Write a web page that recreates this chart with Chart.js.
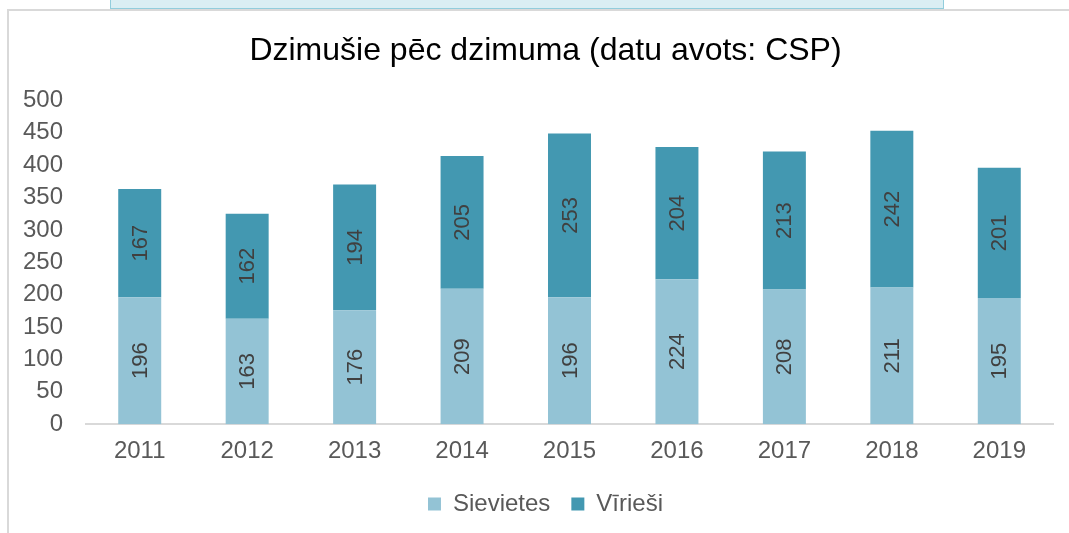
<!DOCTYPE html>
<html>
<head>
<meta charset="utf-8">
<script src="https://cdn.jsdelivr.net/npm/chart.js@4"></script>
<style>
  body { margin: 0; background: #fff; }
  #wrap { position: relative; width: 1069px; height: 533px; overflow: hidden; }
  #tab { position: absolute; left: 110px; top: -2px; width: 832px; height: 9px; background: #daeef3; border: 1px solid #92cddc; }
  #frame { position: absolute; left: 7px; top: 9px; width: 1070px; height: 540px; border-left: 2px solid #d9d9d9; border-top: 2px solid #d9d9d9; }
  canvas { position: absolute; left: 0; top: 0; }
</style>
</head>
<body>
<div id="wrap">
  <div id="tab"></div>
  <div id="frame"></div>
  <canvas id="myChart" width="1069" height="533"></canvas>
</div>
<script>
const years = ["2011", "2012", "2013", "2014", "2015", "2016", "2017", "2018", "2019"];
const sievietes = [196, 163, 176, 209, 196, 224, 208, 211, 195];
const viriesi = [167, 162, 194, 205, 253, 204, 213, 242, 201];
const yTicks = [0, 50, 100, 150, 200, 250, 300, 350, 400, 450, 500];

const fontName = "'Liberation Sans', Arial, sans-serif";

// value labels turned on their side, like in the excel chart
const barLabels = {
  id: 'barLabels',
  afterDatasetsDraw(chart) {
    const ctx = chart.ctx;
    ctx.save();
    ctx.font = '22px ' + fontName;
    ctx.fillStyle = '#404040';
    ctx.textAlign = 'center';
    ctx.textBaseline = 'middle';
    chart.data.datasets.forEach((ds, i) => {
      chart.getDatasetMeta(i).data.forEach((bar, j) => {
        const y = (bar.y + bar.base) / 2;
        ctx.save();
        ctx.translate(bar.x, y);
        ctx.rotate(-Math.PI / 2);
        ctx.fillText(ds.data[j], 0, 1);
        ctx.restore();
      });
    });
    ctx.restore();
  }
};

const myChart = new Chart(document.getElementById('myChart'), {
  type: 'bar',
  data: {
    labels: years,
    datasets: [
      { label: 'Sievietes', data: sievietes, backgroundColor: '#93c3d5' },
      { label: 'Vīrieši', data: viriesi, backgroundColor: '#4398b1' }
    ]
  },
  options: {
    responsive: false,
    animation: false,
    layout: { padding: { left: 22, right: 0, top: 0, bottom: 7 } },
    datasets: { bar: { barPercentage: 0.4, categoryPercentage: 1 } },
    scales: {
      x: {
        stacked: true,
        grid: { display: false },
        border: { display: true, color: '#d9d9d9', width: 2 },
        ticks: { color: '#595959', font: { family: fontName, size: 24 }, padding: 5 }
      },
      y: {
        stacked: true,
        min: 0,
        max: 500,
        afterBuildTicks(scale) { scale.ticks = yTicks.map(v => ({ value: v })); },
        afterFit(scale) { scale.width = 64; },
        grid: { display: false },
        border: { display: false },
        ticks: { color: '#595959', font: { family: fontName, size: 24 }, padding: 15 }
      },
      // empty axis, only keeps the right margin so title and legend stay centred like the original
      right: {
        position: 'right',
        afterFit(scale) { scale.width = 16; },
        grid: { display: false },
        border: { display: false },
        ticks: { display: false }
      }
    },
    plugins: {
      title: {
        display: true,
        text: 'Dzimušie pēc dzimuma (datu avots: CSP)',
        color: '#000',
        font: { family: fontName, size: 32, weight: 'normal' },
        padding: { top: 32, bottom: 30 }
      },
      legend: {
        position: 'bottom',
        labels: {
          color: '#595959',
          font: { family: fontName, size: 24 },
          boxWidth: 13,
          boxHeight: 13,
          padding: 21
        }
      },
      tooltip: { enabled: false }
    }
  },
  plugins: [barLabels]
});
</script>
</body>
</html>
